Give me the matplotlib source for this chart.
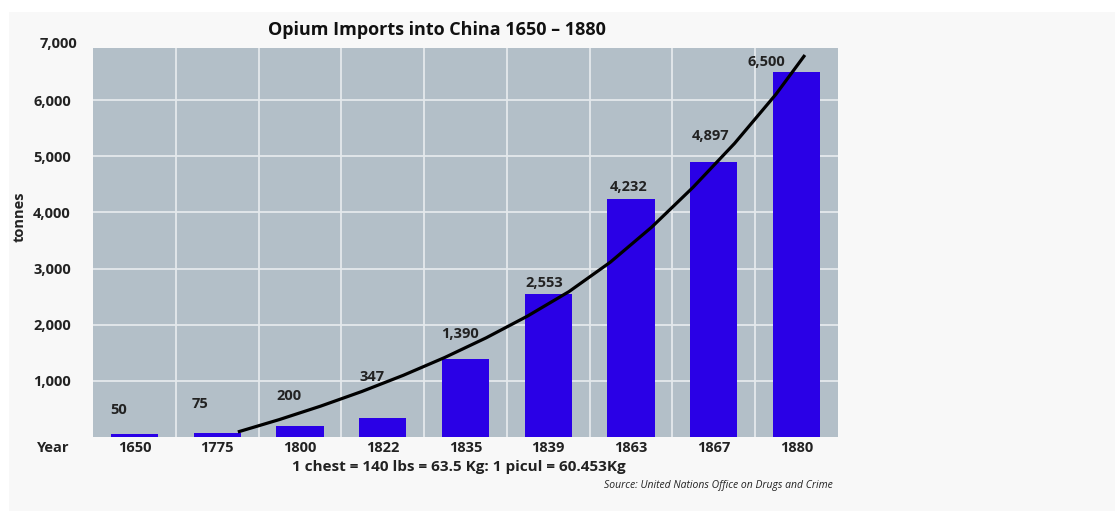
import matplotlib.pyplot as plt
import matplotlib.transforms as mtransforms
from matplotlib.patches import Rectangle

# bar data
years = ["1650", "1775", "1800", "1822", "1835", "1839", "1863", "1867", "1880"]
tonnes = [50, 75, 200, 347, 1390, 2553, 4232, 4897, 6500]

# trend curve (x in category index units, y in tonnes)
curve_x = [1.25, 1.75, 2.25, 2.75, 3.25, 3.75, 4.25, 4.75, 5.25, 5.75, 6.25, 6.75, 7.25, 7.75, 8.10]
curve_y = [90, 310, 550, 812, 1100, 1417, 1767, 2155, 2590, 3115, 3740, 4450, 5230, 6105, 6805]

y_ticks = [1000, 2000, 3000, 4000, 5000, 6000]

# label offsets from bar top, in pixels (dx, dy)
label_offsets = [(-16, 24), (-17, 29), (-11, 30), (-11, 41), (-6, 25), (-4, 11), (-2, 12), (-3, 26), (-30, 10)]

BAR = "#2a00e6"
BG = "#b3bfc8"
INK = "#222222"
FONT = "Open Sans"

plt.rcParams["font.family"] = [FONT, "DejaVu Sans"]

fig = plt.figure(figsize=(11.15, 5.11), dpi=100)
fig.patch.set_facecolor("white")
fig.patches.append(Rectangle((9 / 1115, 0), 1 - 9 / 1115, 1 - 12 / 511,
                             transform=fig.transFigure, facecolor="#f8f8f8",
                             edgecolor="none", zorder=-10))

ax = fig.add_axes([93 / 1115, 74 / 511, 745 / 1115, 389 / 511])
ax.set_facecolor(BG)

x = list(range(len(years)))
ax.bar(x, tonnes, width=0.57, color=BAR, zorder=3)
ax.plot(curve_x, curve_y, color="black", lw=2.3, solid_capstyle="butt",
        solid_joinstyle="round", zorder=4)

for xi, v, (dx, dy) in zip(x, tonnes, label_offsets):
    ax.annotate(f"{v:,}", (xi, v), xytext=(dx, dy), textcoords="offset pixels",
                ha="center", va="center", fontsize=10.5, fontweight="bold",
                color=INK, zorder=5)

ax.set_xlim(-0.5, len(years) - 0.5)
ax.set_ylim(0, 6930)

ax.set_yticks(y_ticks)
ax.set_yticklabels([f"{t:,}" for t in y_ticks])
ax.set_xticks(x)
ax.set_xticklabels(years)
ax.tick_params(length=0, labelsize=10.5, colors=INK)
ax.tick_params(axis="y", pad=16)
ax.tick_params(axis="x", pad=3)
for lab in ax.get_xticklabels() + ax.get_yticklabels():
    lab.set_fontweight("bold")

# 7,000 sits just above the plot area
trans = mtransforms.blended_transform_factory(ax.transAxes, ax.transData)
ax.text(-16 / 745, 7000, "7,000", transform=trans, ha="right", va="center",
        fontsize=10.5, fontweight="bold", color=INK, clip_on=False)

# grid
for t in y_ticks:
    ax.axhline(t, color="#e4e9ec", lw=1.3, zorder=1)
for b in [i + 0.5 for i in x[:-1]]:
    ax.axvline(b, color="#e4e9ec", lw=1.3, zorder=1)
for s in ax.spines.values():
    s.set_visible(False)

fig.text(437 / 1115, 1 - 30 / 511, "Opium Imports into China 1650 \u2013 1880",
         ha="center", va="center", fontsize=13, fontweight="bold", color="#111111")

fig.text(20 / 1115, 1 - 217 / 511, "tonnes", rotation=90, ha="center", va="center",
         fontsize=10.5, fontweight="bold", color=INK)
fig.text(37 / 1115, 1 - 448 / 511, "Year", ha="left", va="center",
         fontsize=10.5, fontweight="bold", color=INK)
fig.text(459 / 1115, 1 - 467 / 511, "1 chest = 140 lbs = 63.5 Kg: 1 picul = 60.453Kg",
         ha="center", va="center", fontsize=11, fontweight="bold", color=INK)
fig.text(833 / 1115, 1 - 485 / 511, "Source: United Nations Office on Drugs and Crime",
         ha="right", va="center", fontsize=7.5, style="italic", color=INK)

fig.savefig("out.png", dpi=100)
